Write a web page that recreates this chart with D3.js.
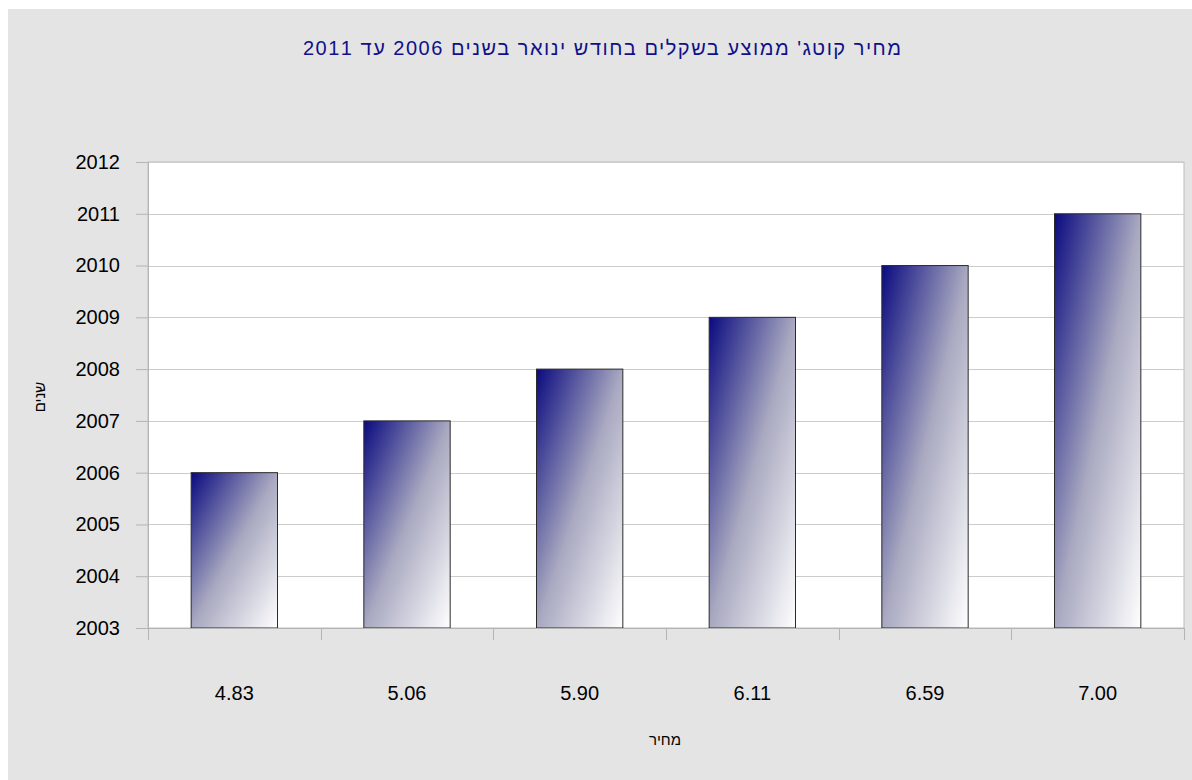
<!DOCTYPE html>
<html>
<head>
<meta charset="utf-8">
<script src="https://cdn.jsdelivr.net/npm/d3@7/dist/d3.min.js"></script>
<style>
	body { margin: 0; background: #ffffff; }
	svg text { font-family: "Liberation Sans", Arial, sans-serif; }
</style>
</head>
<body>
<svg id="chart" width="1192" height="780"></svg>
<script>
// data
var prices = ["4.83", "5.06", "5.90", "6.11", "6.59", "7.00"];
var years = [2006, 2007, 2008, 2009, 2010, 2011];
var yTicks = [2003, 2004, 2005, 2006, 2007, 2008, 2009, 2010, 2011, 2012];

var titleText = "מחיר קוטג' ממוצע בשקלים בחודש ינואר בשנים 2006 עד 2011";
var xTitle = "מחיר";
var yTitle = "שנים";

var width = 1192, height = 780;
var plot = { left: 148, top: 162, right: 1184, bottom: 628 };

var svg = d3.select("#chart");

// gradient for the bars: navy top-left fading to white bottom-right
var defs = svg.append("defs");
var grad = defs.append("linearGradient")
	.attr("id", "barGrad")
	.attr("x1", 0).attr("y1", 0)
	.attr("x2", 1).attr("y2", 1);
grad.append("stop").attr("offset", "0%").attr("stop-color", "#0a0a80");
grad.append("stop").attr("offset", "50%").attr("stop-color", "#a8a8c0");
grad.append("stop").attr("offset", "100%").attr("stop-color", "#ffffff");

// background panel
svg.append("rect")
	.attr("x", 8).attr("y", 9)
	.attr("width", width - 8).attr("height", height - 9)
	.attr("fill", "#e4e4e4");

// plot area
svg.append("rect")
	.attr("x", plot.left).attr("y", plot.top)
	.attr("width", plot.right - plot.left).attr("height", plot.bottom - plot.top)
	.attr("fill", "#ffffff")
	.attr("stroke", "#bdbdbd")
	.attr("stroke-width", 1);

var x = d3.scaleBand()
	.domain(prices)
	.range([plot.left, plot.right])
	.paddingInner(0.5)
	.paddingOuter(0.25);

var y = d3.scaleLinear()
	.domain([2003, 2012])
	.range([plot.bottom, plot.top]);

// horizontal gridlines
svg.append("g")
	.selectAll("line")
	.data(yTicks)
	.enter()
	.append("line")
	.attr("x1", plot.left)
	.attr("x2", plot.right)
	.attr("y1", function(d) { return Math.round(y(d)) + 0.5; })
	.attr("y2", function(d) { return Math.round(y(d)) + 0.5; })
	.attr("stroke", "#cccccc")
	.attr("stroke-width", 1);

// bars
svg.append("g")
	.selectAll("rect")
	.data(years)
	.enter()
	.append("rect")
	.attr("x", function(d, i) { return x(prices[i]); })
	.attr("y", function(d) { return y(d); })
	.attr("width", x.bandwidth())
	.attr("height", function(d) { return plot.bottom - y(d); })
	.attr("fill", "url(#barGrad)")
	.attr("stroke", "#2a2a2a")
	.attr("stroke-width", 1);

// y axis
var yAxis = svg.append("g")
	.attr("transform", "translate(" + plot.left + ",0)")
	.call(d3.axisLeft(y).tickValues(yTicks).tickFormat(d3.format("d")).tickSize(12).tickPadding(16));
yAxis.select(".domain").attr("stroke", "#b4b4b4");
yAxis.selectAll(".tick line").attr("stroke", "#b4b4b4");
yAxis.selectAll("text")
	.attr("fill", "#000000")
	.style("font-size", "20px")
	.style("font-family", "'Liberation Sans', Arial, sans-serif");

// x axis: ticks sit on the category boundaries
var boundaries = d3.range(prices.length + 1).map(function(i) {
	return plot.left + i * (plot.right - plot.left) / prices.length;
});
var xAxisG = svg.append("g");
xAxisG.append("line")
	.attr("x1", 136).attr("x2", plot.right)
	.attr("y1", plot.bottom + 0.5).attr("y2", plot.bottom + 0.5)
	.attr("stroke", "#b4b4b4");
xAxisG.selectAll(".xtick")
	.data(boundaries)
	.enter()
	.append("line")
	.attr("class", "xtick")
	.attr("x1", function(d) { return Math.round(d) + 0.5; })
	.attr("x2", function(d) { return Math.round(d) + 0.5; })
	.attr("y1", plot.bottom)
	.attr("y2", plot.bottom + 12)
	.attr("stroke", "#b4b4b4");
xAxisG.selectAll(".xlabel")
	.data(prices)
	.enter()
	.append("text")
	.attr("class", "xlabel")
	.attr("x", function(d) { return x(d) + x.bandwidth() / 2; })
	.attr("y", 700)
	.attr("text-anchor", "middle")
	.style("font-size", "20px")
	.attr("fill", "#000000")
	.text(function(d) { return d; });

// titles
svg.append("text")
	.attr("x", 602)
	.attr("y", 55)
	.attr("text-anchor", "middle")
	.attr("fill", "#10108a")
	.style("font-size", "20px")
	.attr("textLength", 598)
	.attr("lengthAdjust", "spacing")
	.text(titleText);

svg.append("text")
	.attr("x", 665)
	.attr("y", 745)
	.attr("text-anchor", "middle")
	.attr("fill", "#000000")
	.style("font-size", "15px")
	.text(xTitle);

svg.append("text")
	.attr("transform", "translate(45,397) rotate(-90)")
	.attr("text-anchor", "middle")
	.attr("fill", "#000000")
	.style("font-size", "15px")
	.text(yTitle);
</script>
</body>
</html>
